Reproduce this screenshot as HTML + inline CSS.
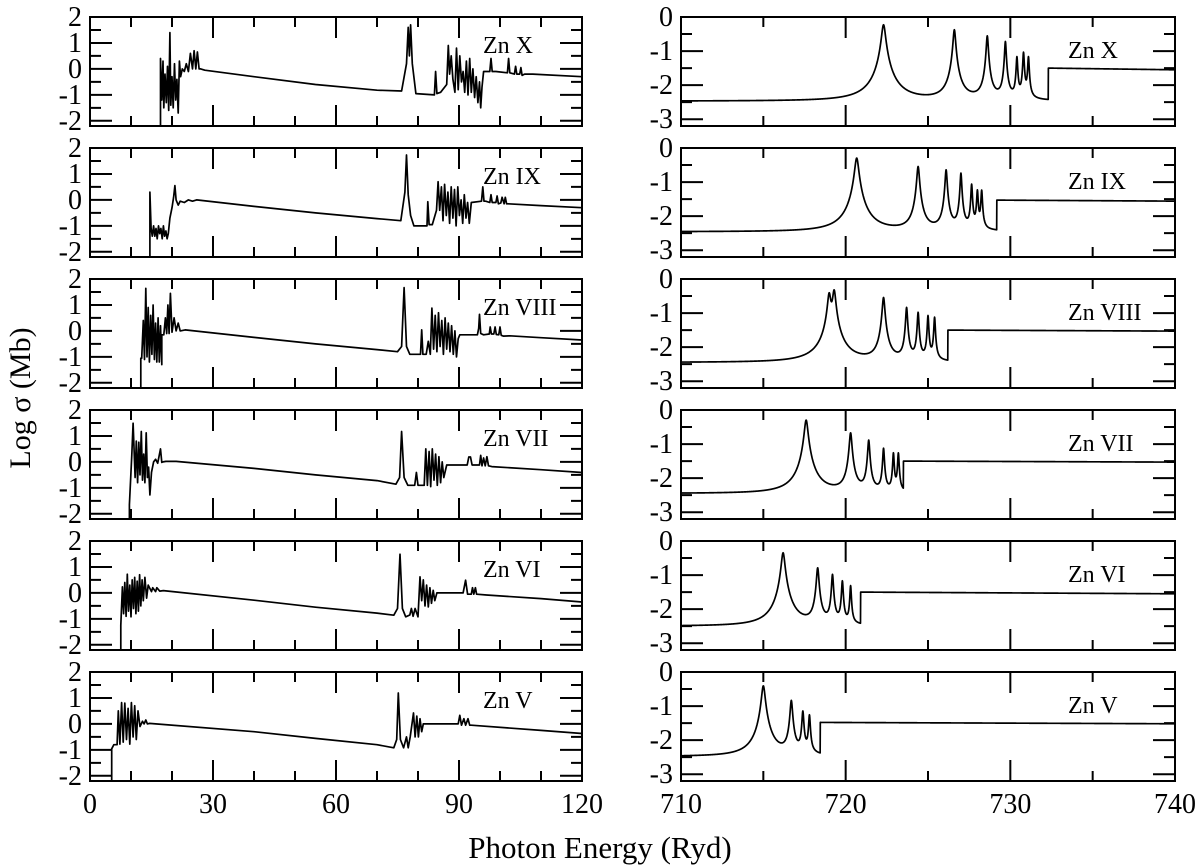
<!DOCTYPE html>
<html><head><meta charset="utf-8"><style>
body{margin:0;background:#fff;}
svg{display:block;font-family:"Liberation Serif",serif;}
</style></head><body>
<svg id="fig" width="1200" height="866" viewBox="0 0 1200 866">
<text x="600" y="858" font-size="31" text-anchor="middle">Photon Energy (Ryd)</text>
<text transform="translate(30,398) rotate(-90)" font-size="30" text-anchor="middle">Log σ (Mb)</text>
</svg>
<script>
// ---- data ----
const ions = ["Zn X","Zn IX","Zn VIII","Zn VII","Zn VI","Zn V"];
const leftTicksY = ["2","1","0","-1","-2"];
const rightTicksY = ["0","-1","-2","-3"];
const leftTicksX = ["0","30","60","90","120"];
const rightTicksX = ["710","720","730","740"];

// left panels: energy (Ryd) / log sigma
const zn10E=[17.2,17.2,17.5,17.8,18.0,18.3,18.6,18.9,19.2,19.5,19.7,20.0,20.3,20.6,20.9,21.2,21.5,21.8,22.1,22.5,23,23.5,24,24.5,25,25.4,25.8,26.2,26.6,27,28,40,55,70,76,77.2,77.6,77.9,78.2,78.6,79.5,84,84.3,84.6,85.5,87,87.4,87.7,88.1,88.5,89,89.4,89.8,90.2,90.6,91,91.4,91.8,92.2,92.6,93,93.4,93.8,94.2,94.6,95.0,95.3,95.6,96,97.5,97.8,98.1,99,101.8,102.1,102.4,103.5,103.8,104.1,104.8,105.1,105.4,106,108,120];
const zn10S=[-2.2,0.4,-1.2,0.3,-1.5,-0.2,-1.3,0.1,-1.6,1.4,-1.4,-0.3,-1.5,0.2,-1.2,-0.4,-1.7,0.3,-0.3,0,-0.1,0.2,-0.1,0.6,0,0.7,0,0.65,0,0,-0.05,-0.3,-0.6,-0.82,-0.85,0.2,1.6,0.5,1.7,0.2,-0.95,-1.0,-0.1,-0.95,-0.9,-0.6,0.9,-0.2,0.5,-0.4,-0.9,0.8,-0.8,0.5,-0.5,-0.1,-0.9,0.3,-1.0,0.4,-0.9,0,-1.1,-0.3,-1.3,-0.5,-1.5,-0.7,-0.1,-0.1,0.4,-0.1,-0.1,-0.15,0.4,-0.15,-0.2,0.1,-0.2,-0.2,0.05,-0.25,-0.2,-0.2,-0.3];
const zn9E=[14.6,14.6,14.9,15.2,15.5,15.8,16.1,16.4,16.7,17.0,17.3,17.6,17.9,18.2,18.5,18.8,19.1,19.5,20.0,20.4,20.7,21.0,21.5,22,23,24,25,26,40,55,70,75.8,76.8,77.2,77.6,78.2,79,82.2,82.4,82.7,83.5,84.5,84.9,85.3,85.7,86.1,86.5,86.9,87.3,87.7,88.1,88.5,88.9,89.3,89.7,90.1,90.5,90.9,91.3,91.7,92.1,92.5,93,95.5,95.8,96.1,96.5,97.5,97.8,98.1,99,99.3,99.6,100.2,100.5,101,101.3,101.6,102,110,120];
const zn9S=[-2.2,0.3,-1.1,-1.4,-1.0,-1.4,-1.1,-1.5,-1.0,-1.3,-1.1,-1.5,-1.0,-1.4,-1.2,-1.5,-1.3,-0.7,-0.3,0.1,0.55,0,-0.2,-0.05,-0.1,0,-0.05,0,-0.25,-0.5,-0.72,-0.8,0.3,1.73,0.2,-0.6,-1.0,-1.0,-0.07,-0.95,-0.95,-0.4,0.7,-0.4,0.5,-0.8,0.6,-0.6,0.3,-0.9,0.5,-0.7,0.4,-1.0,0.5,-0.6,0,-0.9,0.2,-0.7,-0.1,-0.9,-0.1,-0.05,0.5,-0.05,-0.05,-0.1,0.2,-0.1,-0.1,0.15,-0.15,-0.12,0.1,-0.15,0.1,-0.15,-0.15,-0.22,-0.3];
const zn8E=[12.4,12.4,12.6,13.0,13.3,13.6,13.9,14.2,14.5,14.8,15.1,15.4,15.7,16.0,16.3,16.6,16.9,17.2,17.5,17.5,18.0,18.4,18.7,19.0,19.3,19.6,20.0,20.5,21,21.5,22,23.2,40,55,70,75,76.0,76.6,77.2,78,80.6,80.9,81.2,82,82.5,83,83.4,83.8,84.2,84.6,85,85.4,85.8,86.2,86.6,87,87.4,87.8,88.2,88.6,89,89.4,89.8,90.2,94.5,94.8,95.0,95.3,96,97.4,97.6,97.9,98.5,98.8,99.1,99.7,100,100.3,100.8,102.4,110,120];
const zn8S=[-2.2,-1.05,-1.05,0.4,-1.1,1.64,-1.0,0.9,-1.2,0.6,-0.9,1.0,-1.1,0.3,-1.2,0.5,-1.2,0.2,-1.3,-0.15,-0.15,0.5,-0.1,1.0,-0.1,1.45,-0.05,0.5,0,0.3,0,0.04,-0.25,-0.5,-0.72,-0.8,-0.6,1.67,-0.6,-0.9,-0.9,0.04,-0.9,-0.9,-0.4,-0.9,0.88,-0.7,0.6,-0.8,0.7,-0.6,0.4,-0.9,0.5,-0.7,0.3,-0.8,0.2,-0.9,0,-1.0,-0.3,-0.15,-0.15,0.1,0.64,-0.1,-0.15,-0.12,0.15,-0.12,-0.12,0.15,-0.14,-0.15,0.15,-0.17,-0.2,-0.19,-0.26,-0.35];
const zn7E=[9.6,9.6,10.2,10.5,11.0,11.3,11.6,11.9,12.2,12.5,12.8,13.1,13.4,13.7,14.0,14.3,14.6,15.0,15.5,16,16.5,17.2,17.5,17.8,18.5,21,40,55,70,74.6,75.5,76.0,76.6,77.5,79.2,79.6,80,81.5,81.9,82.3,82.7,83.1,83.5,83.9,84.3,84.7,85.1,85.5,85.9,86.3,87,92,92.4,92.8,93.2,95,95.3,95.6,96,96.4,96.8,97.2,98,110,120];
const zn7S=[-2.2,-1.65,0.27,1.49,-0.6,0.8,-0.8,0.76,-0.5,1.17,-0.7,0.3,-0.8,1.12,-0.6,-0.2,-1.27,-0.4,0,0.1,-0.05,0.5,-0.02,0,0.02,0.02,-0.25,-0.5,-0.72,-0.86,-0.6,1.17,-0.6,-0.9,-0.9,-0.41,-0.9,-0.9,0.5,-0.9,0.4,-0.95,0.5,-0.7,0.3,-0.9,0.2,-0.8,0,-0.6,-0.12,-0.12,0.19,0.19,-0.12,-0.12,0.25,-0.15,0.15,-0.15,0.2,-0.15,-0.18,-0.3,-0.41];
const zn6E=[7.5,7.5,7.9,8.2,8.5,8.8,9.1,9.4,9.7,10.0,10.3,10.6,10.9,11.2,11.5,11.8,12.1,12.4,12.7,13.0,13.4,13.8,14.2,15,15.3,16,16.3,17,17.9,40,55,70,74.1,75.0,75.6,76.2,77,78,78.4,78.8,79.3,80,80.5,80.9,81.3,81.7,82.1,82.5,82.9,83.3,83.7,84.1,84.6,91,91.6,92.1,93,93.3,93.6,94,94.3,96.7,110,120];
const zn6S=[-2.2,-1.25,0.23,-0.8,0.4,-0.9,0.72,-0.7,0.3,-0.92,0.5,-0.6,0.6,-0.8,0.45,-0.7,0.7,-0.5,0.5,-0.3,0.6,-0.2,0.3,0.05,0.2,0.05,0.2,0.07,0.09,-0.28,-0.55,-0.78,-0.86,-0.6,1.49,-0.6,-0.92,-0.85,-0.6,-0.9,-0.6,-0.92,0.62,-0.3,0.5,-0.5,0.3,-0.54,0.2,-0.4,0.1,-0.3,0,0,0.49,-0.05,-0.05,0.2,-0.05,0.2,-0.05,-0.08,-0.22,-0.35];
const zn5E=[5.3,5.3,5.8,6.6,6.9,7.3,7.7,8.1,8.5,8.9,9.3,9.7,10.1,10.5,10.9,11.3,11.7,12.2,12.8,13.2,13.6,14,14.5,40,55,70,74.1,74.8,75.2,75.7,76.5,77.2,77.6,78.1,78.9,79.3,79.7,80.1,80.5,80.9,81.3,82.1,89.8,90.2,90.6,91.2,91.6,92.2,92.6,93,110,120];
const zn5S=[-2.2,-0.96,-0.8,-0.8,0.5,-0.78,0.82,-0.7,0.8,-0.6,0.6,-0.78,0.82,-0.5,0.7,-0.6,0.5,-0.1,0.1,0,0.15,0,0.02,-0.3,-0.56,-0.8,-0.92,-0.6,1.19,-0.6,-0.92,-0.5,-0.92,-0.5,0.42,-0.5,0.3,-0.5,0.2,-0.3,0,0,0,0.33,-0.05,0.2,-0.05,0.2,-0.05,-0.05,-0.25,-0.37];
const leftEnergies=[zn10E,zn9E,zn8E,zn7E,zn6E,zn5E];
const leftSigmas=[zn10S,zn9S,zn8S,zn7S,zn6S,zn5S];

// right panels: resonance positions (Ryd), peak log sigma, widths, background, edge, post-edge levels
const resPos=[[722.3,726.6,728.6,729.7,730.4,730.8,731.1],[720.67,724.4,726.1,727.0,727.65,728.0,728.26],[719.0,719.3,722.3,723.7,724.4,725.0,725.4],[717.6,720.3,721.4,722.3,722.9,723.2],[716.2,718.3,719.2,719.8,720.3],[715.0,716.7,717.4,717.8]];
const resPeak=[[-0.23,-0.38,-0.56,-0.73,-1.2,-1.06,-1.2],[-0.3,-0.55,-0.65,-0.75,-1.09,-1.28,-1.28],[-0.45,-0.35,-0.55,-0.85,-1.0,-1.1,-1.15],[-0.3,-0.68,-0.9,-1.15,-1.3,-1.3],[-0.35,-0.8,-1.0,-1.2,-1.35],[-0.41,-0.85,-1.18,-1.3]];
const resWidth=[[0.11,0.07,0.055,0.045,0.04,0.04,0.04],[0.11,0.07,0.055,0.045,0.04,0.04,0.04],[0.09,0.09,0.07,0.05,0.045,0.04,0.04],[0.1,0.07,0.055,0.045,0.04,0.04],[0.1,0.065,0.05,0.045,0.04],[0.1,0.065,0.05,0.045]];
const bgLevel=[-2.47,-2.46,-2.45,-2.45,-2.5,-2.48];
const edgeE=[732.3,729.17,726.2,723.5,720.9,718.45];
const postStart=[-1.5,-1.53,-1.5,-1.5,-1.5,-1.48];
const postEnd=[-1.55,-1.56,-1.53,-1.53,-1.55,-1.52];

// ---- layout ----
const NS="http://www.w3.org/2000/svg";
const svg=document.getElementById('fig');
const tops=[17,148,279,410,541,672], H=109;
const L={x0:90,x1:582,xmin:0,xmax:120,ymin:-2.2,ymax:2};
const R={x0:681,x1:1175,xmin:710,xmax:740,ymin:-3.2,ymax:0};
function sx(a,v){return a.x0+(v-a.xmin)/(a.xmax-a.xmin)*(a.x1-a.x0);}
function sy(a,top,v){return top+(a.ymax-v)/(a.ymax-a.ymin)*H;}
function mk(tag,attrs,parent){const e=document.createElementNS(NS,tag);for(const k in attrs)e.setAttribute(k,attrs[k]);(parent||svg).appendChild(e);return e;}

function drawFrame(a,top,side,idx,ytl,xmaj,xmin){
  const g=mk('g',{});
  
  
  let d='';
  for(let v=a.xmin;v<=a.xmax+1e-6;v+=xmin){
    const major=Math.abs((v-a.xmin)/xmaj-Math.round((v-a.xmin)/xmaj))<1e-6;
    const len=major?21:10, x=sx(a,v);
    d+=`M${x},${top+H}v${-len}M${x},${top}v${len}`;
  }
  for(let v=Math.ceil(a.ymin*2)/2;v<=a.ymax+1e-6;v+=0.5){
    const major=Math.abs(v-Math.round(v))<1e-6;
    const len=major?22:11, y=sy(a,top,v);
    d+=`M${a.x0},${y}h${len}M${a.x1},${y}h${-len}`;
  }
  const t=mk('path',{d:d,stroke:'#000','stroke-width':2,fill:'none'},g);
  
  
  const f=mk('rect',{x:a.x0,y:top,width:a.x1-a.x0,height:H,fill:'none',stroke:'#000','stroke-width':2},g);
  
  
  ytl.forEach(s=>{
    const v=parseFloat(s);
    const tx=mk('text',{x:a.x0-8,y:sy(a,top,v)+9,'font-size':28,'text-anchor':'end'},g);
    tx.textContent=s;
    
    
  });
  return g;
}

for(let i=0;i<6;i++){
  const top=tops[i];
  const gl=drawFrame(L,top,'left',i,leftTicksY,30,10);
  const E=leftEnergies[i], S=leftSigmas[i];
  let d='';
  for(let k=0;k<E.length;k++) d+=(k?'L':'M')+sx(L,E[k]).toFixed(1)+','+sy(L,top,Math.max(S[k],L.ymin)).toFixed(1);
  const pl=mk('path',{d:d,stroke:'#000','stroke-width':1.7,fill:'none','stroke-linejoin':'round'},gl);
  
  
  const lb=mk('text',{x:483,y:top+36,'font-size':24},gl);
  lb.textContent=ions[i];
  
  
  const gr=drawFrame(R,top,'right',i,rightTicksY,10,5);
  let dr='';
  let first=true;
  for(let x=710;x<=740.0001;x+=0.01){
    let y;
    if(x<edgeE[i]){
      let s=Math.pow(10,bgLevel[i]);
      for(let k=0;k<resPos[i].length;k++){
        const u=(x-resPos[i][k])/resWidth[i][k];
        s+=Math.pow(10,resPeak[i][k])/(1+u*u);
      }
      y=Math.log10(s);
    } else {
      y=postStart[i]+(postEnd[i]-postStart[i])*(x-edgeE[i])/(740-edgeE[i]);
    }
    dr+=(first?'M':'L')+sx(R,x).toFixed(2)+','+sy(R,top,y).toFixed(2);
    first=false;
  }
  const pr=mk('path',{d:dr,stroke:'#000','stroke-width':1.7,fill:'none','stroke-linejoin':'round'},gr);
  
  
  const lr=mk('text',{x:1068,y:top+41,'font-size':24},gr);
  lr.textContent=ions[i];
  
  
}
leftTicksX.forEach(s=>{
  const t=mk('text',{x:sx(L,parseFloat(s)),y:813,'font-size':28,'text-anchor':'middle'});
  t.textContent=s;
  
  
});
rightTicksX.forEach(s=>{
  const t=mk('text',{x:sx(R,parseFloat(s)),y:813,'font-size':28,'text-anchor':'middle'});
  t.textContent=s;
  
  
});
</script>
</body></html>
